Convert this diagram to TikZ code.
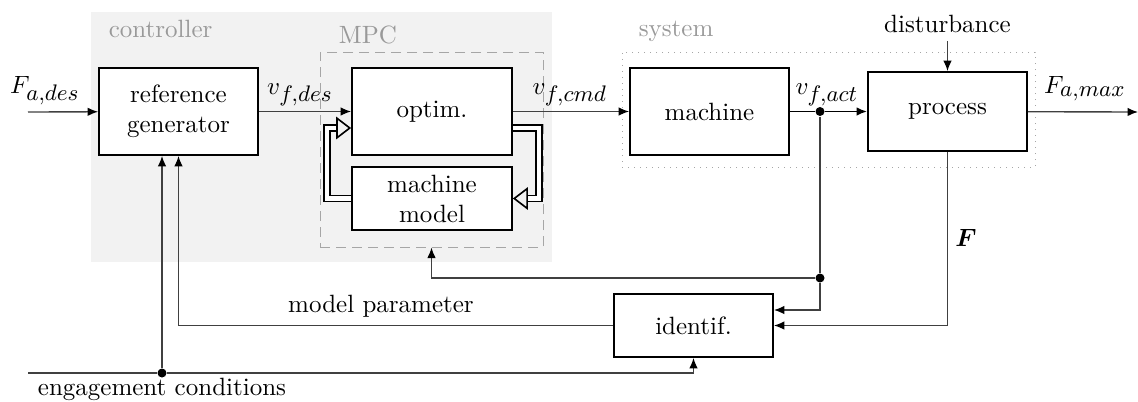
\documentclass[tikz,border=0pt]{standalone}
\usepackage{amsmath}
\usetikzlibrary{arrows.meta,positioning,calc}
\DeclareMathSizes{10}{10}{9}{7}
\tikzset{
  blk/.style={rectangle, draw, line width=0.7pt, minimum width=63.6pt,
              minimum height=34.8pt, align=center, inner sep=1pt},
  grp/.style={rectangle, inner sep=0pt},
  grplbl/.style={text=black!40, anchor=base west},
  sig/.style={anchor=base},
  lne/.style={line width=0.55pt, draw=black!75},
  arr/.style={-{Latex[length=4.2pt,width=3.4pt,color=black]}, line width=0.55pt, draw=black!75},
  dbl/.style={double, double distance=1.7pt, line width=0.65pt,
              -{Triangle[open,length=6pt,width=9pt]}},
  dot/.style={circle, fill=black, inner sep=0pt, minimum size=3.6pt}
}

\begin{document}
\begin{tikzpicture}[x=0.4pt, y=-0.4pt]
  \useasboundingbox (0,0) rectangle (1138,401);

  % groups
  \node[grp, fill=black!5, minimum width=184.4pt, minimum height=100pt] (ctrl) at (321.5,137) {};
  \node[grp, draw=black!35, dashed, dash pattern=on 4pt off 2.4pt,
        minimum width=89.2pt, minimum height=78pt] (mpc) at (431.5,149.5) {};
  \node[grp, draw=black!35, dotted, minimum width=165.2pt, minimum height=46pt] (sys) at (828.5,109.5) {};
  \node[grplbl] at (100,37) {controller};
  \node[grplbl] at (330,43) {MPC};
  \node[grplbl] at (630,36) {system};

  % blocks
  \node[blk, fill=white] (ref) at (178.5,111.5) {reference\\generator};
  \node[blk, fill=white, minimum width=64pt] (optim) at (432,111.5) {optim.};
  \node[blk, fill=white, minimum width=64pt, minimum height=25.2pt] (mmodel) at (432,198.5) {machine\\model};
  \node[blk] (machine) at (709.5,111.5) {machine};
  \node[blk, minimum height=31.6pt] (process) at (947.5,111.5) {process};
  \node[blk, minimum height=25.2pt] (identif) at (693.5,325.5) {identif.};

  % ends and junctions
  \coordinate (fin) at (28,112);
  \coordinate (fout) at (1138,112);
  \coordinate (dist) at (947.5,41);
  \coordinate (eng) at (28,373);
  \node[dot] (j1) at (820,111.5) {};
  \node[dot] (j2) at (820,278) {};
  \node[dot] (j3) at (162,373) {};

  % signals
  \draw[arr] (fin) -- (ref);
  \draw[arr] (ref) -- (optim);
  \draw[arr] (optim) -- (machine);
  \draw[lne, line width=0.7pt, draw=black] (machine) -- (j1);
  \draw[arr, line width=0.7pt, draw=black] (j1) -- (process);
  \draw[arr] (process) -- (fout);
  \draw[arr] (dist) -- (process);
  \draw[lne] (j1) -- (j2);
  \draw[arr] (j2) |- ($(identif.east)+(0,-15.5)$);
  \draw[arr] (j2) -| (mpc.south);
  \draw[arr] (process.south) |- (identif.east);
  \draw[arr] (identif.west) -| (ref.south);
  \draw[lne] (eng) -- (j3);
  \draw[arr] (j3) -| (identif.south);
  \draw[arr] (j3) -- (j3 |- ref.south);

  % MPC loop
  \draw[dbl] (mmodel.west) -- ++(-24,0) |- ($(optim.west)+(0,16.5)$);
  \draw[dbl] ($(optim.east)+(0,16.5)$) -- ++(26,0) |- (mmodel.east);

  % labels
  \node[sig] at (45,93) {$F_{a,des}$};
  \node[sig] at (300,94) {$v_{f,des}$};
  \node[sig] at (570,94) {$v_{f,cmd}$};
  \node[sig] at (827,94) {$v_{f,act}$};
  \node[sig] at (1085,93) {$F_{a,max}$};
  \node[sig] at (947.5,32) {disturbance};
  \node[sig] at (381,312) {model parameter};
  \node[sig] at (162,395) {engagement conditions};
  \node[sig] at (966,246) {$\boldsymbol{F}$};
\end{tikzpicture}
\end{document}
